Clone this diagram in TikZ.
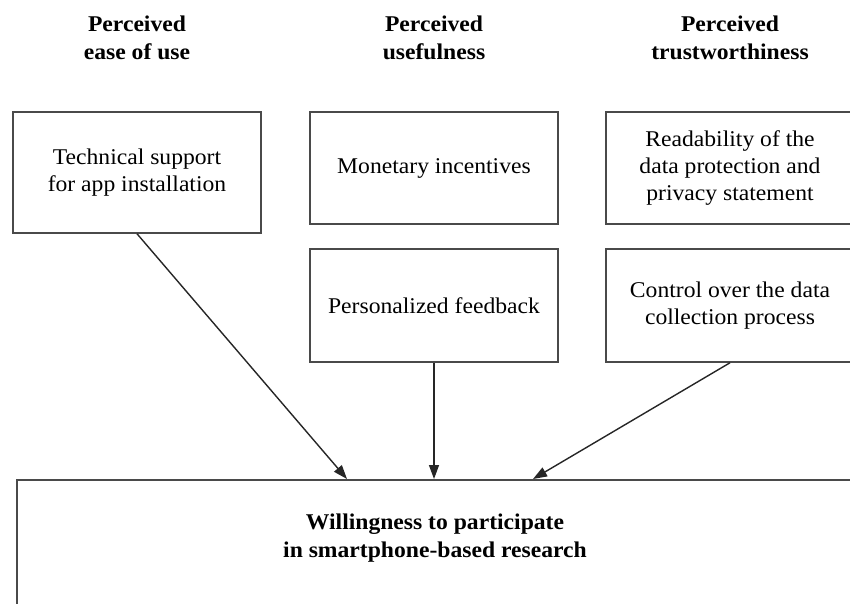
\documentclass[tikz,border=0pt]{standalone}
\usepackage{fontspec}
\setmainfont{Liberation Serif}[FakeStretch=1.05]
\usetikzlibrary{arrows.meta}
\definecolor{boxcol}{HTML}{4A4A4A}
\definecolor{arrcol}{HTML}{262626}
\begin{document}
\begin{tikzpicture}[x=1pt,y=-1pt,
  box/.style={draw=boxcol, line width=1.5pt, minimum width=248pt, align=center, inner sep=0pt,
    font=\fontsize{22.5}{27}\selectfont},
  head/.style={align=center, inner sep=0pt, font=\fontsize{22.5}{27.5}\selectfont\bfseries},
  arr/.style={draw=arrcol, line width=1.4pt, -{Triangle[length=14pt,width=10pt]}}]
\useasboundingbox (0,0) rectangle (850,604);
\clip (0,0) rectangle (850,604);
% headings
\node[head] (h1) at (137,38) {Perceived\\ease of use};
\node[head] (h2) at (434,38) {Perceived\\usefulness};
\node[head] (h3) at (730,38) {Perceived\\trustworthiness};
% boxes
\node[box, minimum height=121pt] (b1) at (137,172.5) {Technical support\\for app installation};
\node[box, minimum height=112pt] (b2) at (434,168) {Monetary incentives};
\node[box, minimum height=113pt] (b3) at (434,305.5) {Personalized feedback};
\node[box, minimum height=112pt] (b4) at (730,168) {Readability of the\\data protection and\\privacy statement};
\node[box, minimum height=113pt] (b5) at (730,305.5) {Control over the data\\collection process};
% outcome box
\node[draw=boxcol, line width=1.6pt, anchor=north west, minimum width=838pt, minimum height=200pt, inner sep=0pt] (bot) at (16,479) {};
\node[head] (bottxt) at (435,538) {Willingness to participate\\in smartphone-based research};
% arrows
\coordinate (t1) at (347,479);
\coordinate (t3) at (533,479);
\draw[arr] (b1.south) -- (t1);
\draw[arr] (b3.south) -- (b3.south |- bot.north);
\draw[arr] (b5.south) -- (t3);
\end{tikzpicture}
\end{document}
